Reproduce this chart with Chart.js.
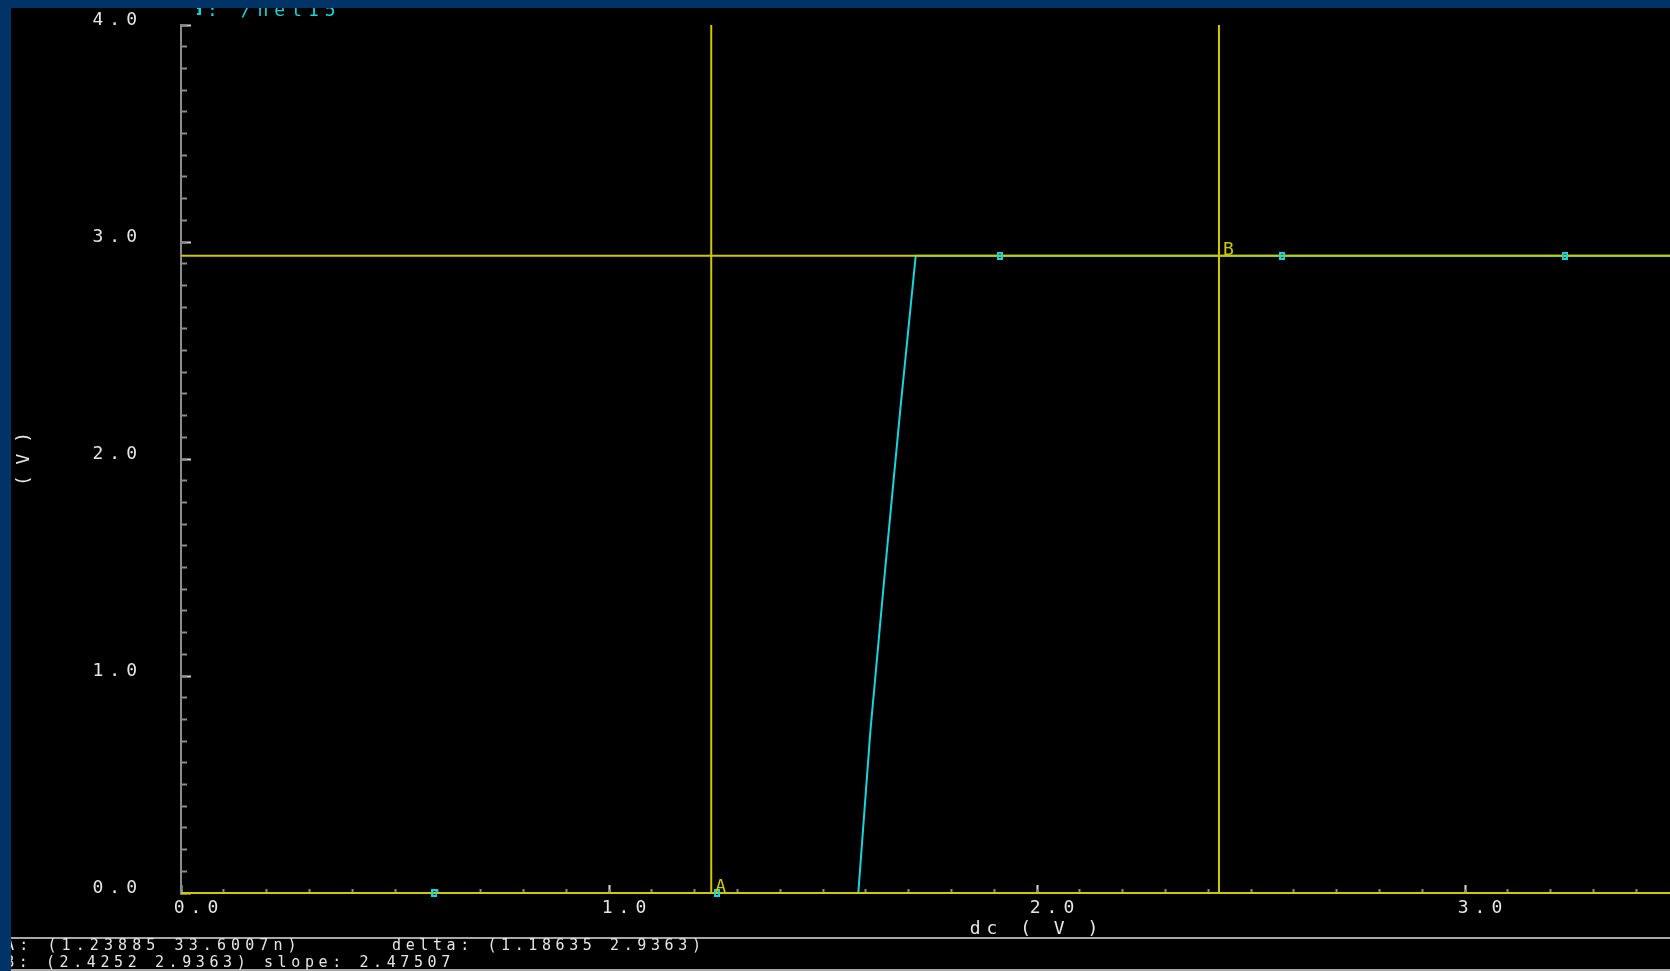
<!DOCTYPE html>
<html>
<head>
<meta charset="utf-8">
<script src="https://cdn.jsdelivr.net/npm/chart.js@4.4.1/dist/chart.umd.min.js"></script>
<style>
  html, body { margin: 0; padding: 0; background: #000; overflow: hidden; width: 1670px; height: 971px; }
  #wrap { position: absolute; left: 0; top: 0; width: 1670px; height: 971px; overflow: hidden; background: #000; }
  #plot { position: absolute; left: 0; top: 0; }
  .frame { position: absolute; background: #003366; }
  .rule { position: absolute; left: 0; width: 1670px; height: 2px; background: #a8a8a8; }
  .readout { position: absolute; white-space: pre; font-family: "DejaVu Sans Mono", monospace;
             font-size: 15px; line-height: 16px; letter-spacing: 4.6px; color: #e6e6e6; }
</style>
</head>
<body>
<div id="wrap">
  <canvas id="plot" width="1900" height="938"></canvas>
  <div class="rule" style="top:937px"></div>
  <div class="rule" style="top:969px"></div>
  <div class="readout" id="lineA" style="left:5px; top:937px; letter-spacing:5.1px"></div>
  <div class="readout" id="lineDelta" style="left:392px; top:937px"></div>
  <div class="readout" id="lineB" style="left:5px; top:954px; letter-spacing:4.6px"></div>
  <div class="frame" style="left:0; top:0; width:1670px; height:8px"></div>
  <div class="frame" style="left:0; top:0; width:11px; height:971px"></div>
</div>
<script>
// DC sweep of node /net15 (V) against the dc source (V)
const sweepDc   = [0.0, 0.592, 1.0, 1.252, 1.5, 1.5825, 1.6106, 1.6449, 1.6799, 1.7166, 1.913, 2.573, 3.233, 3.893, 4.0];
const net15Volt = [0.0, 0.0,   0.0, 0.0,   0.0, 0.0,    0.744,  1.486,  2.214,  2.9363, 2.9363, 2.9363, 2.9363, 2.9363, 2.9363];

// trace symbols drawn along the waveform
const symbolDc   = [0.592, 1.252, 1.913, 2.573, 3.233, 3.893];
const symbolVolt = [0.0,   0.0,   2.9363, 2.9363, 2.9363, 2.9363];

// waveform cursors A and B
const cursorNames = ['A', 'B'];
const cursorDc    = [1.23885, 2.4252];
const cursorVolt  = [33.6007e-9, 2.9363];

// labelled axis ticks
const xTicks = [0, 1, 2, 3, 4];
const yTicks = [0, 1, 2, 3, 4];

const CYAN = '#18d4dc';
const YELLOW = '#cdc800';
const AXIS = '#8c8c8c';
const TEXT = '#e6e6e6';
const FONT = { family: '"DejaVu Sans Mono", monospace', size: 18, lineHeight: 1.2 };
const SPACING = '6px';

// small hollow rectangle used as the trace symbol
const mark = document.createElement('canvas');
mark.width = 6; mark.height = 8;
const mc = mark.getContext('2d');
mc.strokeStyle = CYAN; mc.lineWidth = 2; mc.strokeRect(1, 1, 4, 6);

// value formatting for the cursor readout
function fmt(v) {
  const a = Math.abs(v);
  if (a !== 0 && a < 1e-6) return String(parseFloat((v * 1e9).toPrecision(6))) + 'n';
  return String(parseFloat(v.toPrecision(6)));
}
const dX = cursorDc[1] - cursorDc[0];
const dY = cursorVolt[1] - cursorVolt[0];
document.getElementById('lineA').textContent = 'A: (' + fmt(cursorDc[0]) + ' ' + fmt(cursorVolt[0]) + ')';
document.getElementById('lineDelta').textContent = 'delta: (' + fmt(dX) + ' ' + fmt(dY) + ')';
document.getElementById('lineB').textContent = 'B: (' + fmt(cursorDc[1]) + ' ' + fmt(cursorVolt[1]) + ') slope: ' + fmt(dY / dX);

const minorTicks = s => {
  const out = [];
  for (let i = 0; i <= 40; i++) out.push({ value: i / 10 });
  s.ticks = out;
};

const datasets = [{
  label: '/net15',
  data: sweepDc.map((x, i) => ({ x, y: net15Volt[i] })),
  showLine: true, borderColor: CYAN, borderWidth: 2, pointRadius: 0, order: 3
}];
cursorNames.forEach((name, i) => {
  datasets.push({
    label: 'cursor ' + name + ' (dc)',
    data: [{ x: cursorDc[i], y: yTicks[0] }, { x: cursorDc[i], y: yTicks[yTicks.length - 1] }],
    showLine: true, borderColor: YELLOW, borderWidth: 2, pointRadius: 0, order: 2, clip: false
  });
  datasets.push({
    label: 'cursor ' + name + ' (V)',
    data: [{ x: xTicks[0], y: cursorVolt[i] }, { x: xTicks[xTicks.length - 1], y: cursorVolt[i] }],
    showLine: true, borderColor: YELLOW, borderWidth: 2, pointRadius: 0, order: 2, clip: false
  });
});
datasets.push({
  label: 'symbols',
  data: symbolDc.map((x, i) => ({ x, y: symbolVolt[i] })),
  showLine: false, pointStyle: mark, pointRadius: 4, order: 1, clip: false
});

// wide letter spacing for canvas text
const spacing = {
  id: 'spacing',
  beforeLayout(c) { c.ctx.letterSpacing = SPACING; },
  beforeDraw(c) { c.ctx.letterSpacing = SPACING; }
};

// legend sits right of the y axis; the vertical axis title is set tight
const placement = {
  id: 'placement',
  afterLayout(c) {
    const l = c.legend;
    l.left += 197; l.right += 197;
    l.top += 5; l.bottom += 5;
    const ys = c.scales.y;
    if (!ys._tightTitle) {
      const orig = ys.drawTitle;
      ys.drawTitle = function () {
        const keep = this.ctx.letterSpacing;
        this.ctx.letterSpacing = '0px';
        orig.call(this);
        this.ctx.letterSpacing = keep;
      };
      ys._tightTitle = true;
    }
  }
};

const cursorTags = {
  id: 'cursorTags',
  afterDatasetsDraw(c) {
    const { ctx } = c;
    const xs = c.scales.x, ys = c.scales.y;
    ctx.save();
    ctx.letterSpacing = SPACING;
    ctx.font = '18px "DejaVu Sans Mono", monospace';
    ctx.fillStyle = YELLOW;
    ctx.textAlign = 'left';
    ctx.textBaseline = 'alphabetic';
    cursorNames.forEach((n, i) => {
      ctx.fillText(n, xs.getPixelForValue(cursorDc[i]) + 4, ys.getPixelForValue(cursorVolt[i]) - 1);
    });
    ctx.restore();
  }
};

new Chart(document.getElementById('plot'), {
  type: 'scatter',
  data: { datasets },
  plugins: [spacing, placement, cursorTags],
  options: {
    responsive: false,
    animation: false,
    events: [],
    layout: { padding: { top: -3, left: 0, right: 7, bottom: 0 } },
    plugins: {
      tooltip: { enabled: false },
      legend: {
        display: true, position: 'top', align: 'start',
        labels: {
          usePointStyle: true, pointStyleWidth: 1, padding: 0,
          font: FONT, color: CYAN,
          generateLabels: c => [{
            text: ': ' + c.data.datasets[0].label,
            pointStyle: mark, fillStyle: 'rgba(0,0,0,0)', strokeStyle: 'rgba(0,0,0,0)',
            lineWidth: 0, fontColor: CYAN, datasetIndex: 0, hidden: false
          }]
        }
      }
    },
    scales: {
      x: {
        type: 'linear', position: 'bottom', weight: 1, min: xTicks[0], max: xTicks[xTicks.length - 1],
        afterBuildTicks: s => { s.ticks = xTicks.map(v => ({ value: v })); },
        ticks: { callback: v => v.toFixed(1), color: TEXT, font: FONT, padding: 13, labelOffset: 18,
                 maxRotation: 0, autoSkip: false },
        grid: { display: true, drawOnChartArea: false, drawTicks: true, tickLength: -8, tickColor: '#dcdcdc', tickWidth: 2 },
        border: { display: true, color: AXIS, width: 2 },
        title: { display: true, text: 'dc ( V )', color: TEXT, font: FONT, padding: { top: 0, bottom: -2 } },
        afterFit: s => { s.height = 45; s.paddingLeft = 0; s.paddingRight = 0; }
      },
      xMinor: {
        type: 'linear', position: 'bottom', weight: 0, min: xTicks[0], max: xTicks[xTicks.length - 1],
        afterBuildTicks: minorTicks,
        ticks: { display: false, autoSkip: false },
        grid: { display: true, drawOnChartArea: false, drawTicks: true, tickLength: -4, tickColor: AXIS, tickWidth: 2 },
        border: { display: false },
        afterFit: s => { s.height = 0; s.paddingLeft = 0; s.paddingRight = 0; }
      },
      y: {
        type: 'linear', position: 'left', weight: 1, min: yTicks[0], max: yTicks[yTicks.length - 1],
        afterBuildTicks: s => { s.ticks = yTicks.map(v => ({ value: v })); },
        ticks: { callback: v => v.toFixed(1), color: TEXT, font: FONT, padding: 48, labelOffset: -5, autoSkip: false },
        grid: { display: true, drawOnChartArea: false, drawTicks: true, tickLength: -10, tickColor: '#d0d0d0', tickWidth: 2 },
        border: { display: true, color: AXIS, width: 2 },
        title: { display: true, text: '( V )', color: TEXT, font: FONT, padding: { top: 14, bottom: 0 } },
        afterFit: s => { s.width = 181; s.paddingTop = 0; s.paddingBottom = 0; }
      },
      yMinor: {
        type: 'linear', position: 'left', weight: 0, min: yTicks[0], max: yTicks[yTicks.length - 1],
        afterBuildTicks: minorTicks,
        ticks: { display: false, autoSkip: false },
        grid: { display: true, drawOnChartArea: false, drawTicks: true, tickLength: -6, tickColor: AXIS, tickWidth: 2 },
        border: { display: false },
        afterFit: s => { s.width = 0; s.paddingTop = 0; s.paddingBottom = 0; }
      }
    }
  }
});
</script>
</body>
</html>
